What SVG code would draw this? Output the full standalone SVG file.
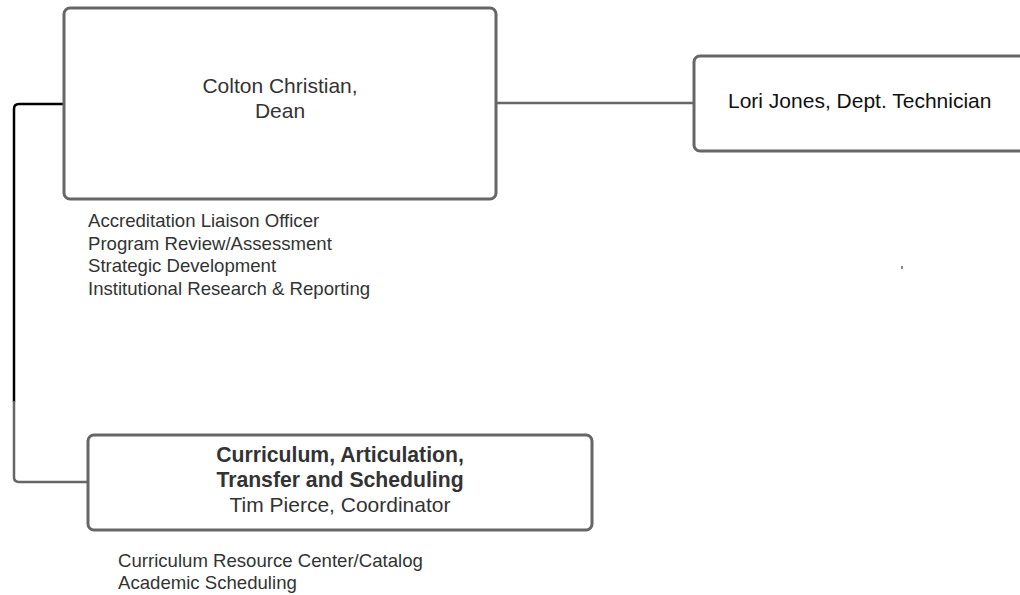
<svg xmlns="http://www.w3.org/2000/svg" width="1020" height="595" viewBox="0 0 1020 595">
<style>
.box{fill:#fff;stroke:#666;stroke-width:3}
.t{font-family:"Liberation Sans",Arial,sans-serif;fill:#333}
.c{text-anchor:middle}
.conn{fill:none;stroke:#666;stroke-width:2.5}
</style>
<rect width="1020" height="595" fill="#fff"/>
<g id="connectors">
<line class="conn" x1="496" y1="103" x2="694" y2="103" stroke-width="2"/>
<path d="M64,104 H19 Q14,104 14,109 V402" fill="none" stroke="#000" stroke-width="2.5"/>
<path class="conn" d="M14,401 V477 Q14,482 19,482 H88" stroke-width="3"/>
</g>
<g id="dean">
<rect class="box" x="64" y="8" width="432" height="191" rx="6"/>
<text class="t c" x="280" y="93" font-size="21">Colton Christian,</text>
<text class="t c" x="280" y="118" font-size="21">Dean</text>
</g>
<g id="lori">
<rect class="box" x="694" y="56" width="340" height="95" rx="6"/>
<text class="t" x="728" y="108" font-size="21" style="fill:#111">Lori Jones, Dept. Technician</text>
</g>
<g id="dean-duties">
<text class="t" font-size="18.6"><tspan x="88" y="227">Accreditation Liaison Officer</tspan><tspan x="88" y="250">Program Review/Assessment</tspan><tspan x="88" y="272">Strategic Development</tspan><tspan x="88" y="295">Institutional Research &amp; Reporting</tspan></text>
</g>
<g id="curriculum">
<rect class="box" x="88" y="435" width="504" height="95" rx="6"/>
<text class="t c" x="340" y="462" font-size="21.2" font-weight="bold">Curriculum, Articulation,</text>
<text class="t c" x="340" y="487" font-size="21.2" font-weight="bold">Transfer and Scheduling</text>
<text class="t c" x="340" y="512" font-size="21">Tim Pierce, Coordinator</text>
</g>
<g id="curriculum-duties">
<text class="t" font-size="18.6"><tspan x="118" y="567">Curriculum Resource Center/Catalog</tspan><tspan x="118" y="589">Academic Scheduling</tspan></text>
</g>
<rect x="901" y="266" width="2" height="3" fill="#888"/>
</svg>
